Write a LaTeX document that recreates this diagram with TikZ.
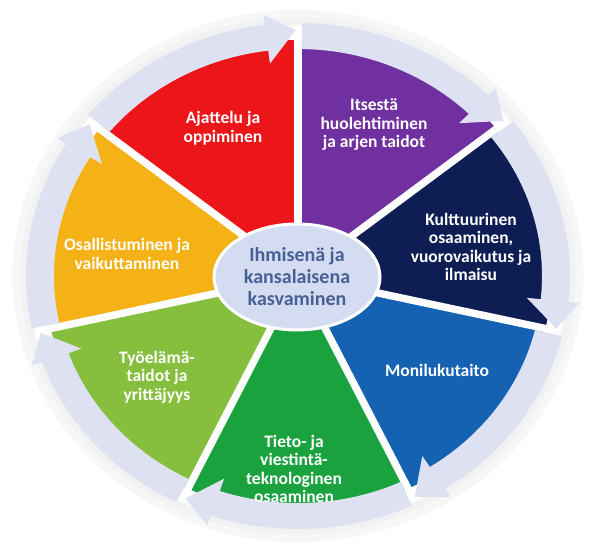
\documentclass[tikz,border=0pt]{standalone}
\usepackage{fontspec}
\usetikzlibrary{shapes.geometric}
\setmainfont{Carlito}
\definecolor{cRed}{RGB}{236,22,26}
\definecolor{cPurple}{RGB}{112,48,160}
\definecolor{cNavy}{RGB}{14,30,84}
\definecolor{cBlue}{RGB}{22,98,178}
\definecolor{cGreen}{RGB}{26,162,62}
\definecolor{cLime}{RGB}{134,190,62}
\definecolor{cOrange}{RGB}{245,178,22}
\definecolor{cRing}{RGB}{221,225,242}
\definecolor{cEll}{RGB}{211,220,240}
\definecolor{cEllText}{RGB}{72,96,150}
\begin{document}
\begin{tikzpicture}[x=1pt,y=1pt,
  seclabel/.style={text=white, font=\bfseries\fontsize{17.5}{18.5}\selectfont, align=center, inner sep=0pt},
  ringarrow/.style={fill=cRing},
  gapline/.style={white, line width=7.4pt},
  hub/.style={ellipse, fill=cEll, draw=white, line width=3pt, minimum width=166pt, minimum height=106pt,
    inner sep=0pt, text=cEllText, font=\bfseries\fontsize{20}{22}\selectfont, align=center},
]
\useasboundingbox (0,0) rectangle (600,551);
\fill[white] (0,0) rectangle (600,551);
\begin{scope}[shift={(298,275)}, xscale=1.075]
  % soft glow around the ring
  \draw[black!3, line width=16pt] (0,0) circle[radius=258pt];
  \draw[black!5, line width=7pt] (0,0) circle[radius=255pt];
  % coloured wedges
  \foreach \s/\c in {90/cPurple, 38.571/cNavy, -12.857/cBlue, -64.286/cGreen, -115.714/cLime, -167.143/cOrange, -218.571/cRed} {
    \pgfmathsetmacro\e{\s-51.429}
    \fill[\c] (0,0) -- (\s:236pt) arc[start angle=\s, end angle=\e, radius=236pt] -- cycle;
  }
  % white gaps
  \foreach \s in {90, 38.571, -12.857, -64.286, -115.714, -167.143, -218.571} {
    \draw[gapline] (0,0) -- (\s:240pt);
  }
  % ring arrows
  \foreach \s in {90, 38.571, -12.857, -64.286, -115.714, -167.143, -218.571} {
    \pgfmathsetmacro\a{\s-0.9}
    \pgfmathsetmacro\e{\s-51.429}
    \pgfmathsetmacro\b{\e+7}
    \pgfmathsetmacro\t{\e+0.5}
    \fill[ringarrow] (\a:227pt) -- (\a:253pt) arc[start angle=\a, end angle=\b, radius=253pt]
      -- (\b:263pt) -- (\t:246pt) -- (\b:214pt) -- (\b:227pt)
      arc[start angle=\b, end angle=\a, radius=227pt] -- cycle;
  }
\end{scope}
% central ellipse
\node[hub] (center) at (297,274) {Ihmisenä ja\\kansalaisena\\kasvaminen};
% sector labels
\node[seclabel] (red) at (223,423) {Ajattelu ja\\oppiminen};
\node[seclabel] (purple) at (374,426) {Itsestä\\huolehtiminen\\ja arjen taidot};
\node[seclabel] (navy) at (471,304) {Kulttuurinen\\osaaminen,\\vuorovaikutus ja\\ilmaisu};
\node[seclabel] (blue) at (437,181) {Monilukutaito};
\node[seclabel] (green) at (294,82) {Tieto- ja\\viestintä-\\teknologinen\\osaaminen};
\node[seclabel] (lime) at (157,174) {Työelämä-\\taidot ja\\yrittäjyys};
\node[seclabel] (orange) at (127,297) {Osallistuminen ja\\vaikuttaminen};
\end{tikzpicture}
\end{document}
